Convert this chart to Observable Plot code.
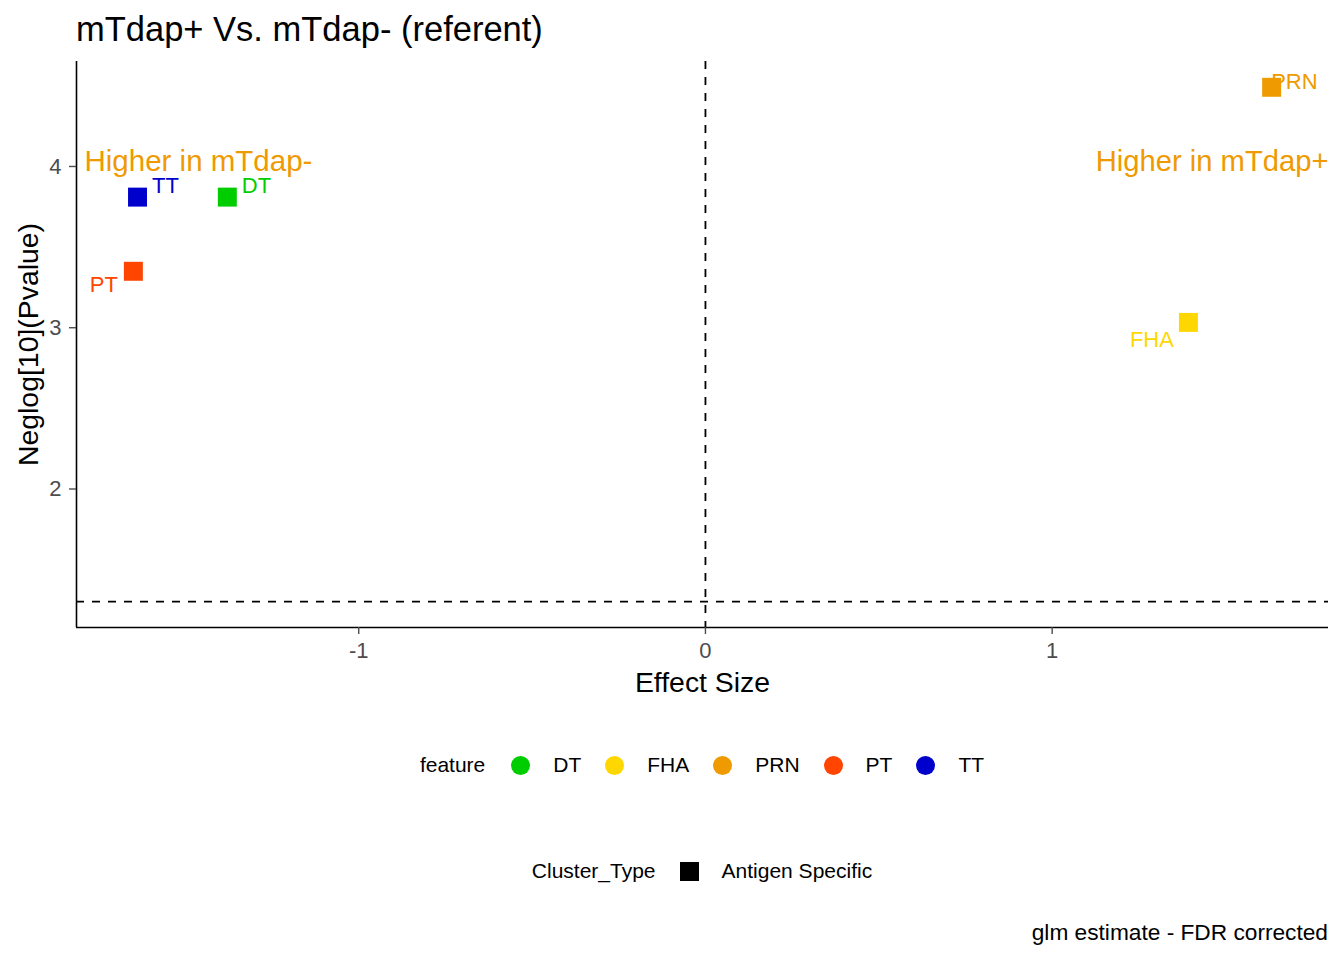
<!DOCTYPE html>
<html><head><meta charset="utf-8">
<script src="https://cdn.jsdelivr.net/npm/d3@7"></script>
<script src="https://cdn.jsdelivr.net/npm/@observablehq/plot@0.6"></script>
<style>
body{margin:0;background:#fff;font-family:"Liberation Sans",Arial,sans-serif;color:#000;}
#wrap{position:relative;width:1344px;height:960px;overflow:hidden;background:#fff;}
#chart{position:absolute;left:0;top:0;}
#title{position:absolute;left:76px;top:10px;font-size:34.5px;line-height:normal;white-space:nowrap;}
.legend{position:absolute;left:76px;width:1252px;height:24px;display:flex;justify-content:center;align-items:center;font-size:21px;line-height:24px;white-space:nowrap;}
.legend .t{margin-right:26px;}
.legend .key{width:19px;height:19px;margin-right:23px;flex:none;}
.legend .lab{margin-right:24px;}
.legend .lab:last-child{margin-right:0;}
#leg1{top:753px;}
#leg2{top:859px;}
#leg2 .t{margin-right:24px;}
#caption{position:absolute;right:16px;top:919px;font-size:22.7px;line-height:normal;white-space:nowrap;}
</style></head><body>
<div id="wrap">
<div id="chart"></div>
<div id="title">mTdap+ Vs. mTdap- (referent)</div>
<div class="legend" id="leg1"></div>
<div class="legend" id="leg2"></div>
<div id="caption">glm estimate - FDR corrected</div>
</div>
<script>
// ---- data ----
const features = ["DT", "FHA", "PRN", "PT", "TT"];
const effectSize = [-1.379, 1.393, 1.633, -1.650, -1.638];
const neglogP = [3.810, 3.033, 4.491, 3.350, 3.810];
const clusterTypes = ["Antigen Specific"];
const featureColors = ["#00CD00", "#FFD700", "#EE9A00", "#FF4500", "#0000CD"];
const xTicks = [-1, 0, 1];
const yTicks = [2, 3, 4];
const pThreshold = [1.301];
const zeroEffect = [0];
const annotationText = ["Higher in mTdap-", "Higher in mTdap+"];
const annotationY = [4.03, 4.03];

// ---- build table ----
const data = features.map((f, i) => ({feature: f, x: effectSize[i], y: neglogP[i], type: clusterTypes[0]}));

// label placement (style, mimics ggrepel)
const labelStyle = {
  DT:  {dx: 14.5, dy: -11.5, textAnchor: "start"},
  FHA: {dx: -14.5, dy: 18, textAnchor: "end"},
  PRN: {dx: -0.5, dy: -5.5, textAnchor: "start"},
  PT:  {dx: -15.5, dy: 14, textAnchor: "end"},
  TT:  {dx: 14.5, dy: -11, textAnchor: "start"}
};

const xDomain = [-1.814, 1.797];
const yDomain = [1.141, 4.651];
const lineW = 1.6;
const dash = {stroke: "black", strokeWidth: 1.8, strokeDasharray: "8,8"};

const labelMarks = features.map(f => Plot.text(data.filter(d => d.feature === f), {
  x: "x", y: "y", text: "feature", fill: "feature",
  fontSize: 22, lineAnchor: "middle", ...labelStyle[f]
}));

const chart = Plot.plot({
  width: 1344,
  height: 700,
  marginLeft: 76,
  marginRight: 16,
  marginTop: 61,
  marginBottom: 73,
  style: {fontFamily: "'Liberation Sans', Arial, sans-serif", background: "white", overflow: "visible"},
  x: {domain: xDomain, ticks: xTicks},
  y: {domain: yDomain, ticks: yTicks},
  color: {domain: features, range: featureColors},
  marks: [
    Plot.ruleX(zeroEffect, dash),
    Plot.ruleY(pThreshold, dash),
    Plot.ruleY([yDomain[0]], {stroke: "black", strokeWidth: lineW}),
    Plot.ruleX([xDomain[0]], {stroke: "black", strokeWidth: lineW}),
    Plot.axisX({ticks: xTicks, tickSize: 7, tickPadding: 8, fontSize: 22, color: "#4D4D4D", strokeWidth: 1.4, label: null, tickFormat: d => String(d)}),
    Plot.axisY({ticks: yTicks, tickSize: 7, tickPadding: 8, fontSize: 22, color: "#4D4D4D", strokeWidth: 1.4, label: null, tickFormat: d => String(d)}),
    Plot.dot(data, {x: "x", y: "y", fill: "feature", symbol: "square", r: 10.7, stroke: null}),
    ...labelMarks,
    Plot.text([annotationText[0]], {y: [annotationY[0]], text: d => d, frameAnchor: "left", dx: 8, textAnchor: "start", lineAnchor: "middle", fontSize: 29.5, fill: "#EE9A00"}),
    Plot.text([annotationText[1]], {y: [annotationY[1]], text: d => d, frameAnchor: "right", dx: 0, textAnchor: "end", lineAnchor: "middle", fontSize: 29.2, fill: "#EE9A00"}),
    Plot.text(["Effect Size"], {frameAnchor: "bottom", dy: 55, text: d => d, fontSize: 28.4, fill: "black", textAnchor: "middle", lineAnchor: "middle"}),
    Plot.text(["Neglog[10](Pvalue)"], {frameAnchor: "left", dx: -48, rotate: -90, text: d => d, fontSize: 28.4, fill: "black", textAnchor: "middle", lineAnchor: "middle"})
  ]
});
document.getElementById("chart").appendChild(chart);

// ---- legends ----
const leg1 = document.getElementById("leg1");
leg1.innerHTML = '<span class="t">feature</span>' + features.map((f, i) =>
  `<span class="key" style="background:${featureColors[i]};border-radius:50%"></span><span class="lab">${f}</span>`).join("");
const leg2 = document.getElementById("leg2");
leg2.innerHTML = '<span class="t">Cluster_Type</span>' + clusterTypes.map(c =>
  `<span class="key" style="background:#000"></span><span class="lab">${c}</span>`).join("");
</script>
</body></html>
